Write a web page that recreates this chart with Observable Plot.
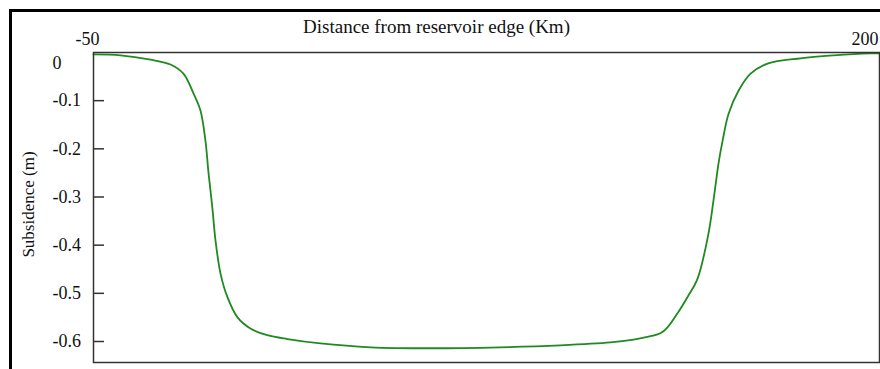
<!DOCTYPE html>
<html><head><meta charset="utf-8">
<script src="https://cdn.jsdelivr.net/npm/d3@7"></script>
<script src="https://cdn.jsdelivr.net/npm/@observablehq/plot@0.6"></script>
<style>
body{margin:0;background:#fff;overflow:hidden}
#wrap{position:relative;width:880px;height:369px;overflow:hidden}
#border{position:absolute;left:9px;top:9px;width:1000px;height:1000px;border:3px solid #000;box-sizing:border-box}
#chart{position:absolute;left:0;top:0}
</style></head><body><div id="wrap"><div id="border"></div><div id="chart"></div></div>
<script>
const distanceKm = [-50, -41.4, -31.9, -25.5, -21.4, -18.2, -16.0, -14.4, -13.4, -12.2, -11.2, -9.6, -7.4, -4.2, -0.1, 5.3, 11.7, 22.2, 38.1, 57.2, 79.5, 98.5, 114.4, 121.8, 127.2, 130.3, 132.5, 135.7, 138.9, 142.1, 145.6, 147.2, 148.8, 150.1, 152.0, 155.2, 159.0, 164.4, 174.9, 185.4, 197.1, 200];
const subsidenceM = [-0.004, -0.006, -0.015, -0.025, -0.044, -0.085, -0.120, -0.183, -0.251, -0.322, -0.390, -0.459, -0.508, -0.550, -0.573, -0.587, -0.595, -0.604, -0.612, -0.614, -0.612, -0.608, -0.602, -0.596, -0.589, -0.583, -0.571, -0.542, -0.508, -0.470, -0.376, -0.307, -0.230, -0.183, -0.127, -0.079, -0.044, -0.023, -0.012, -0.006, -0.002, -0.002];
const xTickLeft = [-50];
const xTickRight = [200];
const yTicks = [-0.6, -0.5, -0.4, -0.3, -0.2, -0.1];
const yTopTick = [0];
const xTitle = ["Distance from reservoir edge (Km)"];
const yTitle = ["Subsidence (m)"];

const data = distanceKm.map((x, i) => ({x, y: subsidenceM[i]}));
const fmt = d => String(d);

const chart = Plot.plot({
  width: 880, height: 369,
  marginLeft: 93, marginRight: 1, marginTop: 52, marginBottom: 7,
  style: {fontFamily: "'Liberation Serif', 'Times New Roman', serif", fontSize: "18px", color: "#111", background: "transparent"},
  x: {domain: [-50, 200]},
  y: {domain: [-0.6436, 0]},
  marks: [
    Plot.line(data, {x: "x", y: "y", stroke: "#1f8a1f", strokeWidth: 1.8, curve: "catmull-rom"}),
    Plot.frame({stroke: "#333", strokeWidth: 1.5}),
    Plot.tickY(yTicks, {y: d => d, stroke: "#333", strokeWidth: 1.5, insetRight: 775}),
    Plot.axisY(yTicks, {anchor: "left", tickSize: 0, tickPadding: 0, textAnchor: "start", dx: -41, tickFormat: fmt, label: null, fill: "#111", fontSize: 18}),
    Plot.text(yTopTick, {frameAnchor: "top-left", text: fmt, textAnchor: "start", lineAnchor: "middle", dx: -41, dy: 11, fill: "#111", fontSize: 18}),
    Plot.axisX(xTickLeft, {anchor: "top", tickSize: 0, tickPadding: 8, dx: -6, tickFormat: fmt, label: null, fill: "#111", fontSize: 18}),
    Plot.axisX(xTickRight, {anchor: "top", tickSize: 0, tickPadding: 8, textAnchor: "end", dx: -1, tickFormat: fmt, label: null, fill: "#111", fontSize: 18}),
    Plot.text(xTitle, {frameAnchor: "top", text: d => d, textAnchor: "middle", lineAnchor: "middle", dx: -50, dy: -26, fontSize: 19, fill: "#111"}),
    Plot.text(yTitle, {frameAnchor: "left", text: d => d, textAnchor: "middle", lineAnchor: "middle", rotate: -90, dx: -65, dy: -3, fontSize: 17, fill: "#111"})
  ]
});
document.getElementById("chart").appendChild(chart);
</script>
</body></html>
